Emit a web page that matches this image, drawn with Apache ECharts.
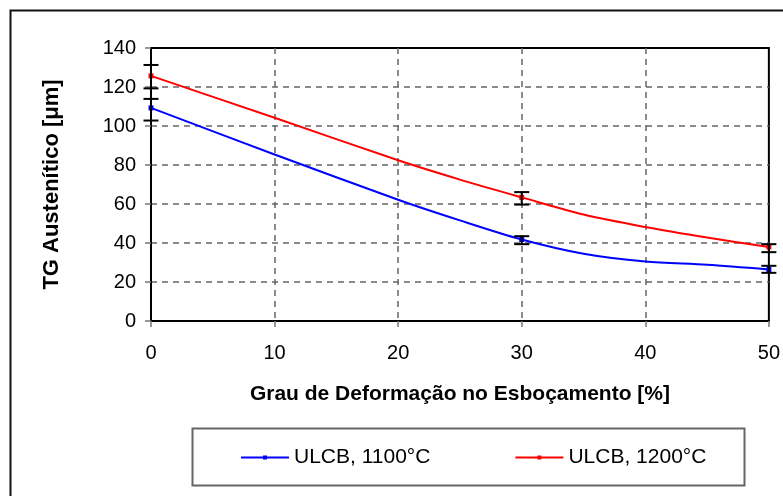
<!DOCTYPE html>
<html>
<head>
<meta charset="utf-8">
<script src="https://cdn.jsdelivr.net/npm/echarts@6/dist/echarts.min.js"></script>
<style>
html,body{margin:0;padding:0;background:#fff;}
#chart{width:783px;height:496px;}
</style>
</head>
<body>
<div id="chart"></div>
<script>
// ---- data ----
var seriesNames = ['ULCB, 1100°C', 'ULCB, 1200°C'];
var xCurve = [0, 10, 20, 25, 30, 35, 40, 45, 50];
var blueCurve = [109.3, 85.4, 62.2, 51.6, 41.8, 34.5, 30.5, 28.8, 26.4];
var redCurve = [125.7, 104.2, 82.4, 72.5, 63.4, 54.6, 48.2, 42.8, 38.0];
var xMeasured = [0, 30, 50];
var blueLow = [102.8, 39.4, 24.7];
var blueHigh = [113.9, 43.5, 28.3];
var redLow = [119.3, 59.7, 35.3];
var redHigh = [131.3, 66.1, 39.4];
var xTicks = [0, 10, 20, 30, 40, 50];
var yTicks = [0, 20, 40, 60, 80, 100, 120, 140];

var FONT = '"Liberation Sans", Arial, sans-serif';

function lineData(ys) {
  return xCurve.map(function (x, i) {
    return { value: [x, ys[i]], symbolSize: xMeasured.indexOf(x) >= 0 ? 5 : 0 };
  });
}
function errData(lo, hi) {
  return xMeasured.map(function (x, i) { return [x, lo[i], hi[i]]; });
}
function renderErr(params, api) {
  var x = api.value(0);
  var p1 = api.coord([x, api.value(1)]);
  var p2 = api.coord([x, api.value(2)]);
  var hw = 7.5;
  var st = { stroke: '#000', lineWidth: 2 };
  return {
    type: 'group',
    children: [
      { type: 'line', shape: { x1: p1[0], y1: p1[1], x2: p2[0], y2: p2[1] }, style: st },
      { type: 'line', shape: { x1: p1[0] - hw, y1: p1[1], x2: p1[0] + hw, y2: p1[1] }, style: st },
      { type: 'line', shape: { x1: p2[0] - hw, y1: p2[1], x2: p2[0] + hw, y2: p2[1] }, style: st }
    ]
  };
}

var chart = echarts.init(document.getElementById('chart'), null, { renderer: 'canvas' });
chart.setOption({
  animation: false,
  backgroundColor: '#fff',
  grid: { left: 151, right: 10, top: 48, bottom: 175, show: true, borderColor: '#000', borderWidth: 2, backgroundColor: 'transparent' },
  graphic: [
    { type: 'rect', left: 8, top: 8, shape: { width: 900, height: 700 }, style: { fill: 'none', stroke: '#111', lineWidth: 2 }, silent: true },
    { type: 'rect', left: 190, top: 426, shape: { width: 552, height: 57 }, style: { fill: 'none', stroke: '#666', lineWidth: 2 }, silent: true }
  ],
  legend: {
    data: seriesNames,
    left: 235, top: 442,
    itemWidth: 48, itemHeight: 5, itemGap: 84,
    textStyle: { fontFamily: FONT, fontSize: 21, color: '#000' }
  },
  xAxis: {
    type: 'value', min: 0, max: 50, interval: 10,
    name: 'Grau de Deformação no Esboçamento [%]',
    nameLocation: 'middle', nameGap: 63,
    nameTextStyle: { fontFamily: FONT, fontSize: 21, fontWeight: 'bold', color: '#000' },
    axisLine: { show: true, lineStyle: { color: '#000', width: 2 } },
    axisTick: { show: true, length: 6, lineStyle: { color: '#777', width: 1.5 } },
    axisLabel: { fontFamily: FONT, fontSize: 20, color: '#000', margin: 22,
      formatter: function (v) { return xTicks.indexOf(v) >= 0 ? String(v) : ''; } },
    splitLine: { show: true, showMinLine: false, showMaxLine: false, lineStyle: { color: '#666', type: [6, 5], width: 1.5 } }
  },
  yAxis: {
    type: 'value', min: 0, max: 140, interval: 20,
    name: 'TG Austenítico [μm]',
    nameLocation: 'middle', nameGap: 88, nameRotate: 90,
    nameTextStyle: { fontFamily: FONT, fontSize: 22, fontWeight: 'bold', color: '#000' },
    axisLine: { show: true, lineStyle: { color: '#000', width: 2 } },
    axisTick: { show: true, length: 6, lineStyle: { color: '#777', width: 1.5 } },
    axisLabel: { fontFamily: FONT, fontSize: 20, color: '#000', margin: 15,
      formatter: function (v) { return yTicks.indexOf(v) >= 0 ? String(v) : ''; } },
    splitLine: { show: true, showMinLine: false, showMaxLine: false, lineStyle: { color: '#666', type: [6, 5], width: 1.5 } }
  },
  series: [
    { name: seriesNames[0], type: 'line', data: lineData(blueCurve), symbol: 'rect', smooth: 0.3,
      color: '#0000ff', lineStyle: { color: '#0000ff', width: 2 }, itemStyle: { color: '#0000ff' }, z: 3 },
    { name: seriesNames[1], type: 'line', data: lineData(redCurve), symbol: 'rect', smooth: 0.3,
      color: '#ff0000', lineStyle: { color: '#ff0000', width: 2 }, itemStyle: { color: '#ff0000' }, z: 3 },
    { type: 'custom', data: errData(blueLow, blueHigh), renderItem: renderErr, clip: false, z: 4, encode: { x: 0, y: [1, 2] } },
    { type: 'custom', data: errData(redLow, redHigh), renderItem: renderErr, clip: false, z: 4, encode: { x: 0, y: [1, 2] } }
  ]
});
</script>
</body>
</html>
